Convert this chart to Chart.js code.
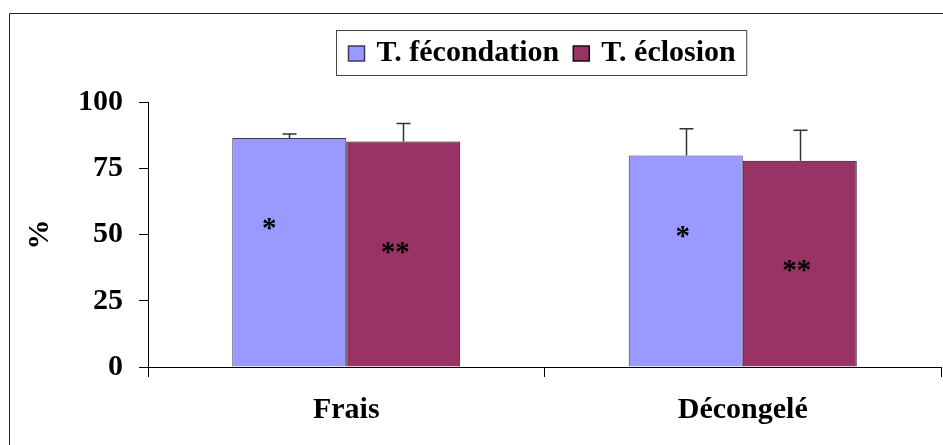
<!DOCTYPE html>
<html>
<head>
<meta charset="utf-8">
<script src="https://cdn.jsdelivr.net/npm/chart.js@4.4.1/dist/chart.umd.min.js"></script>
<style>
  html, body { margin: 0; padding: 0; background: #fff; }
  #wrap { width: 943px; height: 445px; position: relative; }
</style>
</head>
<body>
<div id="wrap"><canvas id="c" width="943" height="445"></canvas></div>
<script>
// Taux de fécondation et d'éclosion (%), sperme frais vs décongelé
const categories = ['Frais', 'Décongelé'];
const seriesNames = ['T. fécondation', 'T. éclosion'];
const fecondation = [86.4, 79.8];
const eclosion = [85.1, 77.8];
const errFecondation = [1.5, 10.1];
const errEclosion = [6.8, 11.5];
const marksFecondation = ['*', '*'];
const marksEclosion = ['**', '**'];
const yTicks = [0, 25, 50, 75, 100];

const FONT = '"Liberation Serif", "Times New Roman", serif';
const FS = 30;

// outer frame of the chart
const framePlugin = {
  id: 'frame',
  beforeDraw(chart) {
    const ctx = chart.ctx;
    ctx.save();
    ctx.strokeStyle = '#222';
    ctx.lineWidth = 1;
    ctx.beginPath();
    ctx.moveTo(9.5, chart.height + 5);
    ctx.lineTo(9.5, 13.5);
    ctx.lineTo(chart.width + 5, 13.5);
    ctx.stroke();
    ctx.restore();
  }
};

// upward error bars with caps
const errorBarPlugin = {
  id: 'errorBars',
  afterDatasetsDraw(chart) {
    const ctx = chart.ctx;
    const y = chart.scales.y;
    ctx.save();
    ctx.strokeStyle = '#333';
    ctx.lineWidth = 1.5;
    chart.data.datasets.forEach((ds, i) => {
      const meta = chart.getDatasetMeta(i);
      meta.data.forEach((el, j) => {
        const top = y.getPixelForValue(ds.data[j] + ds.errors[j]);
        const x = Math.round(el.x) + 0.5;
        ctx.beginPath();
        ctx.moveTo(x, el.y);
        ctx.lineTo(x, top);
        ctx.moveTo(x - 7, top);
        ctx.lineTo(x + 7, top);
        ctx.stroke();
      });
    });
    ctx.restore();
  }
};

// significance asterisks inside the bars
const marksPlugin = {
  id: 'sigMarks',
  afterDatasetsDraw(chart, args, opts) {
    const ctx = chart.ctx;
    const y = chart.scales.y;
    ctx.save();
    ctx.fillStyle = '#000';
    ctx.font = 'bold 29px ' + FONT;
    ctx.textAlign = 'center';
    ctx.textBaseline = 'alphabetic';
    chart.data.datasets.forEach((ds, i) => {
      const meta = chart.getDatasetMeta(i);
      meta.data.forEach((el, j) => {
        const p = opts.at[i][j];
        ctx.fillText(ds.marks[j], el.x + p[0], y.getPixelForValue(p[1]) + 13);
      });
    });
    ctx.restore();
  }
};

// boxed legend above the plot
const boxLegendPlugin = {
  id: 'boxLegend',
  afterDraw(chart) {
    const ctx = chart.ctx;
    const area = chart.chartArea;
    ctx.save();
    ctx.font = 'bold ' + FS + 'px ' + FONT;
    const ds = chart.data.datasets;
    const sw = 16, sh = 15, gapSw = 12, gapItem = 14, padL = 12, padR = 11;
    const widths = ds.map(d => ctx.measureText(d.label).width);
    let total = padL + padR;
    widths.forEach((w, i) => { total += sw + gapSw + w + (i < widths.length - 1 ? gapItem : 0); });
    const cx = (area.left + area.right) / 2 - 3;
    const left = Math.round(cx - total / 2) + 0.5;
    const top = 30.5, h = 45;
    ctx.fillStyle = '#fff';
    ctx.fillRect(left, top, total, h);
    ctx.strokeStyle = '#444';
    ctx.lineWidth = 1;
    ctx.strokeRect(left, top, total, h);
    let x = left + padL;
    ds.forEach((d, i) => {
      ctx.fillStyle = d.backgroundColor;
      ctx.fillRect(x, 46, sw, sh);
      ctx.strokeStyle = d.borderColor;
      ctx.lineWidth = 1.5;
      ctx.strokeRect(x, 46, sw, sh);
      x += sw + gapSw;
      ctx.fillStyle = '#000';
      ctx.textBaseline = 'alphabetic';
      ctx.textAlign = 'left';
      ctx.fillText(d.label, x, 61);
      x += widths[i] + gapItem;
    });
    ctx.restore();
  }
};

new Chart(document.getElementById('c'), {
  type: 'bar',
  data: {
    labels: categories,
    datasets: [
      {
        label: seriesNames[0],
        data: fecondation,
        errors: errFecondation,
        marks: marksFecondation,
        backgroundColor: '#9999FF',
        borderColor: '#3a3a5a',
        borderWidth: 1
      },
      {
        label: seriesNames[1],
        data: eclosion,
        errors: errEclosion,
        marks: marksEclosion,
        backgroundColor: '#993366',
        borderColor: '#1a0a12',
        borderWidth: 1
      }
    ]
  },
  options: {
    responsive: false,
    animation: false,
    events: [],
    layout: { padding: { left: 0, top: 102, right: 2, bottom: 0 } },
    datasets: {
      bar: { categoryPercentage: 0.575, barPercentage: 1 }
    },
    plugins: {
      legend: { display: false },
      tooltip: { enabled: false },
      sigMarks: {
        at: [
          [[-20, 54], [-3, 51]],
          [[-8, 45], [-3, 38]]
        ]
      }
    },
    scales: {
      x: {
        afterFit(s) { s.height = 78; },
        grid: { display: true, drawOnChartArea: false, drawTicks: true, tickLength: 10, color: '#000', offset: true },
        border: { display: true, color: '#000', width: 1 },
        ticks: { color: '#000', font: { family: FONT, size: FS, weight: 'bold' }, padding: 15 }
      },
      y: {
        min: 0,
        max: 100,
        afterFit(s) { s.width = 148; },
        afterBuildTicks(s) { s.ticks = yTicks.map(v => ({ value: v })); },
        grid: { display: true, drawOnChartArea: false, drawTicks: true, tickLength: 9, color: '#000' },
        border: { display: true, color: '#000', width: 1 },
        ticks: { color: '#000', font: { family: FONT, size: FS, weight: 'bold' }, padding: 16 },
        title: {
          display: true,
          text: '%',
          color: '#000',
          font: { family: FONT, size: FS, weight: 'bold' },
          padding: { top: 22, bottom: 0 }
        }
      }
    }
  },
  plugins: [framePlugin, errorBarPlugin, marksPlugin, boxLegendPlugin]
});
</script>
</body>
</html>
